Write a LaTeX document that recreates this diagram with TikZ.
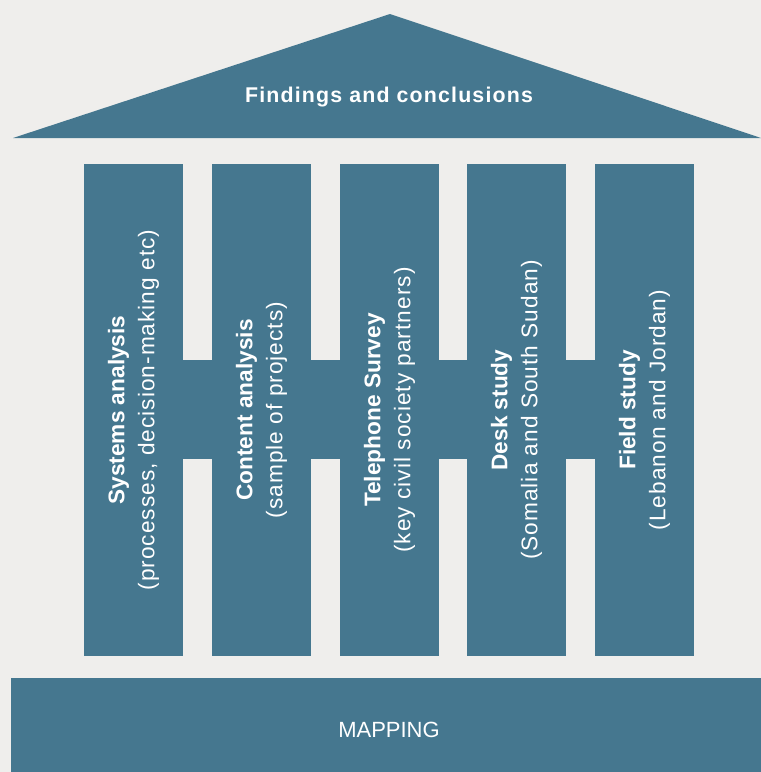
\documentclass[tikz,border=0pt]{standalone}
\usepackage{fontspec}
\setmainfont{Liberation Sans}
\newfontfamily\widefont[LetterSpace=4.5]{Liberation Sans}
\newfontfamily\widerfont[LetterSpace=5.5]{Liberation Sans}
\usetikzlibrary{positioning}
\definecolor{pillarblue}{HTML}{45778F}
\definecolor{bggray}{HTML}{EFEEEC}

\begin{document}
\begin{tikzpicture}[x=0.75pt,y=-0.75pt,
    pillar/.style={fill=pillarblue, minimum width=74.25pt, minimum height=369pt, inner sep=0pt},
    pillartext/.style={rotate=90, text=white, align=center, inner sep=0pt,
      font=\fontsize{17}{22.5}\selectfont},
    roofcap/.style={text=white, inner sep=0pt, font=\fontsize{16}{19}\selectfont\widerfont\bfseries},
    basetext/.style={text=white, inner sep=0pt, font=\fontsize{16.5}{20}\selectfont}]
  % bakgrunn
  \fill[bggray] (0,0) rectangle (761,772);
  \useasboundingbox (0,0) rectangle (761,772);

  % tak
  \fill[pillarblue] (13,138) -- (390,14) -- (761,138) -- cycle;
  \node[roofcap, anchor=base] (roof) at (389,102) {Findings and conclusions};

  % tverrbjelke mellom søylene
  \fill[pillarblue] (183,360) rectangle (595,459);

  % søyler
  \foreach \cx/\ttl/\sub [count=\i] in {
      133.5/Systems analysis/{(processes, decision-making etc)},
      261.5/Content analysis/{(sample of projects)},
      389.5/Telephone Survey/{(key civil society partners)},
      516.5/Desk study/{(Somalia and South Sudan)},
      644.5/Field study/{(Lebanon and Jordan)}} {
    \node[pillar] (col\i) at (\cx,410) {};
    \node[pillartext] (txt\i) at (col\i.center) {\textbf{\ttl}\\{\widefont\sub}};
  }

  % fundament
  \fill[pillarblue] (11,678) rectangle (761,772);
  \node[basetext, anchor=base] (base) at (389,737) {MAPPING};
\end{tikzpicture}
\end{document}
